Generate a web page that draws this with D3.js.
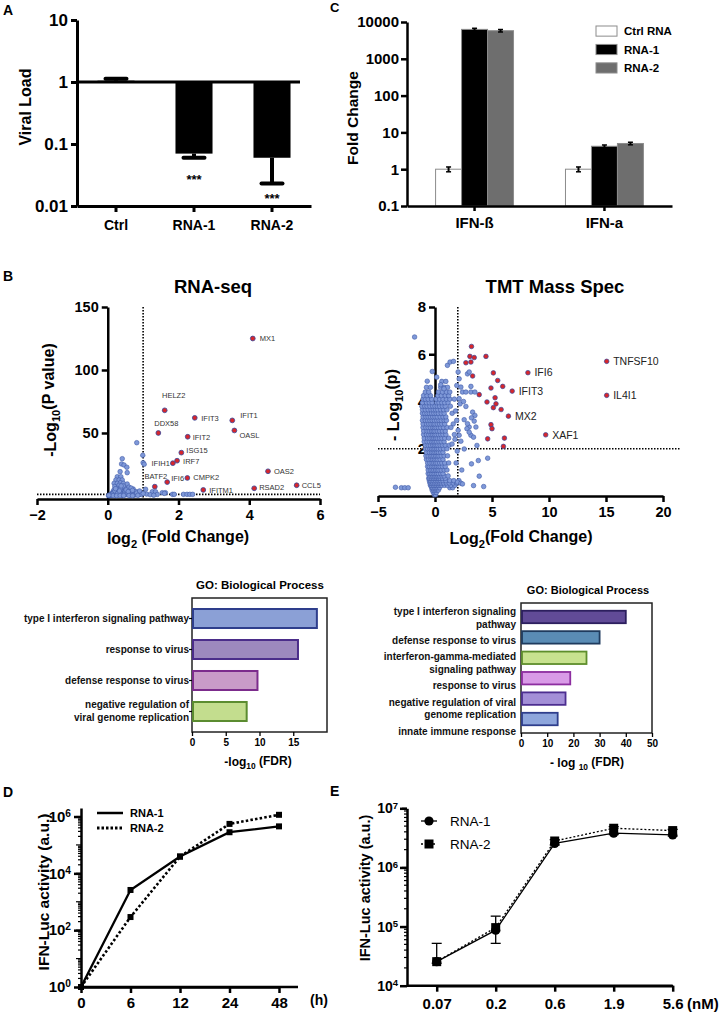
<!DOCTYPE html>
<html><head><meta charset="utf-8">
<script src="https://cdn.jsdelivr.net/npm/d3@7"></script>
<style>body{margin:0;background:#fff}svg{display:block}</style>
</head><body><svg id="c" width="721" height="1014"></svg>
<script>
// ---------------- DATA ----------------
// Panel A
const aCats = ["Ctrl","RNA-1","RNA-2"];
const aMeans = [1.05, 0.07, 0.06];
const aErrEnd = [1.13, 0.06, 0.023];
const aStars = ["", "***", "***"];
const aTicks = [10, 1, 0.1, 0.01];
// Panel C
const cGroups = ["IFN-ß","IFN-a"];
const cSeries = ["Ctrl RNA","RNA-1","RNA-2"];
const cCtrl = [1.0, 1.0];
const cRna1 = [6300, 4.2];
const cRna2 = [5800, 5.0];
const cCtrlErr = [0.15, 0.15];
const cRna1Err = [450, 0.35];
const cRna2Err = [450, 0.4];
const cTicks = [0.1, 1, 10, 100, 1000, 10000];
// Panel B: RNA-seq volcano
const rnaGenes = ["MX1","HELZ2","DDX58","IFIT3","IFIT1","OASL","IFIT2","ISG15","IRF7","IFIH1","OAS2","BATF2","IFI6","CMPK2","IFITM1","RSAD2","CCL5"];
const rnaFC = [4.10,1.61,1.43,2.46,3.52,3.58,2.26,2.08,1.96,1.84,4.53,1.33,1.68,2.25,2.70,4.14,5.34];
const rnaP  = [125,68,50,62,60,52,47,34.4,28,26,19.6,7.4,11,14.3,4.8,6.1,8.5];
const rnaBg = [[0.82,42.3],[0.99,32.3],[0.41,29.6],[0.39,25.4],[0.46,24.6],[0.54,22.8],[1.0,26.4],[1.03,25.2],[0.55,18.5],[0.35,19.3],[0.27,15.3],[0.37,15.3],[0.23,12.7],[0.32,12.7],[0.41,12.7],[0.18,10],[0.27,10],[0.36,10.5],[0.44,10],[0.55,9.5],
[0.08,1.0],[0.12,2.0],[0.15,3.5],[0.18,5.0],[0.2,7.5],[0.22,1.2],[0.25,2.8],[0.28,4.5],[0.3,6.5],[0.32,8.5],[0.35,1.5],[0.38,3.2],[0.4,5.2],[0.42,7.0],[0.45,2.0],[0.48,4.0],[0.5,6.0],[0.52,1.0],[0.55,3.0],[0.58,5.0],[0.6,7.0],[0.62,2.2],[0.65,4.2],[0.68,1.3],[0.7,3.2],[0.72,5.5],[0.75,2.0],[0.78,1.0],[0.8,3.5],[0.84,1.8],[0.88,1.0],[0.92,2.5],[0.95,1.2],[0.1,0.5],[0.05,0.3],[0.02,0.2],[0.14,0.8],[0.18,1.8],[0.24,0.6],[0.3,0.9],[0.34,2.6],[0.26,6.0],[0.36,6.0],[0.44,8.0],[0.48,2.6],[0.56,1.6],[0.63,0.7],[0.66,6.3],[0.74,0.6],[0.82,2.4],[0.16,2.6],[0.2,4.0],[0.12,1.4],[0.06,0.8],[0.4,0.5],[0.46,0.9],[0.52,4.8],[0.58,3.5],[0.7,4.5],[0.38,8.0],[0.28,2.0],[0.22,5.8],[0.33,4.0],
[1.07,5.3],[1.26,3.4],[1.35,3.4],[1.54,2.6],[1.63,2.6],[1.6,2.1],[1.83,1.3],[1.88,1.3],[2.14,1.3],[2.24,1.3],[2.32,1.3],[2.4,1.3],[1.1,1.5],[1.2,1.0],[1.0,2.0],[1.4,1.2],[0.9,4.0],[0.15,0.3],[0.25,0.2],[0.35,0.4],[0.45,0.3],[0.6,0.4],[0.7,0.2],[0.85,0.5],[1.3,0.6],[0.03,0.6]];
const rnaXTicks = [-2,0,2,4,6];
const rnaYTicks = [50,100,150];
// Panel B: TMT volcano
const tmtGenes = ["TNFSF10","IL4I1","IFI6","IFIT3","MX2","XAF1"];
const tmtFC = [15.06,15.06,8.15,6.77,6.44,9.71];
const tmtP  = [5.7,4.26,5.22,4.44,3.38,2.59];
const tmtRed = [[3.2,6.33],[3.06,5.91],[3.44,5.86],[2.71,5.64],[3.15,5.67],[4.47,5.91],[3.3,5.08],[5.12,5.21],[5.5,4.89],[5.94,4.64],[4.91,4.57],[3.88,4.29],[5.27,4.16],[4.56,3.98],[5.35,3.9],[5.12,3.74],[5.8,3.66],[4.91,3.02],[5.0,2.85],[4.62,2.42],[6.09,2.45],[6.0,2.1]];
const tmtCoreRows = [
[0.05,[-0.05,0.05]],
[0.15,[-0.15,0,0.12]],
[0.25,[-0.25,-0.1,0.05,0.18,0.3]],
[0.35,[-0.3,-0.2,-0.05,0.1,0.25,0.4,1.3,1.55]],
[0.45,[-0.4,-0.3,-0.15,0,0.15,0.3,0.45,0.6,0.85,1.1,1.4,1.75]],
[0.55,[-0.45,-0.35,-0.2,-0.05,0.1,0.25,0.4,0.55,0.75,1.0,1.25,1.6,1.9]],
[0.65,[-0.5,-0.4,-0.25,-0.1,0.05,0.2,0.35,0.5,0.7,0.95,1.3,1.65,2.1]],
[0.75,[-0.55,-0.45,-0.3,-0.15,0,0.15,0.3,0.45,0.65,0.9]],
[0.85,[-0.5,-0.35,-0.2,-0.05,0.1,0.25,0.4,0.6,0.8,1.15]],
[0.95,[-0.6,-0.45,-0.3,-0.15,0,0.15,0.3,0.5,0.7]],
[1.1,[-0.6,-0.4,-0.25,-0.1,0.05,0.2,0.35,0.55,0.8,1.05]],
[1.25,[-0.65,-0.5,-0.3,-0.15,0,0.15,0.3,0.45,0.65,0.9]],
[1.4,[-0.65,-0.45,-0.25,-0.1,0.05,0.2,0.4,0.6,0.85,1.2]],
[1.55,[-0.75,-0.55,-0.35,-0.2,-0.05,0.1,0.25,0.45,0.7]],
[1.7,[-0.8,-0.6,-0.4,-0.25,-0.1,0.05,0.2,0.35,0.55,0.8,1.1]],
[1.85,[-0.75,-0.5,-0.3,-0.15,0,0.15,0.3,0.5,0.7]],
[2.0,[-0.85,-0.65,-0.45,-0.3,-0.15,0,0.15,0.3,0.5,0.75,1.05]],
[2.15,[-0.85,-0.6,-0.4,-0.2,-0.05,0.1,0.25,0.45,0.65,0.9,1.25]],
[2.3,[-0.95,-0.7,-0.5,-0.3,-0.15,0,0.15,0.35,0.55,0.8]],
[2.45,[-0.95,-0.65,-0.45,-0.25,-0.1,0.05,0.2,0.4,0.6,0.85,1.2]],
[2.6,[-1.0,-0.75,-0.55,-0.35,-0.2,-0.05,0.1,0.3,0.5,0.7,0.95,1.7]],
[2.75,[-1.0,-0.7,-0.5,-0.3,-0.15,0,0.2,0.4,0.65,0.9]],
[2.9,[-1.05,-0.8,-0.6,-0.4,-0.2,-0.05,0.1,0.3,0.5,0.75,1.05]],
[3.05,[-1.05,-0.75,-0.55,-0.35,-0.15,0,0.2,0.4,0.6,0.85,1.6]],
[3.2,[-1.1,-0.85,-0.65,-0.45,-0.25,-0.05,0.15,0.35,0.55,0.8,1.0]],
[3.35,[-1.05,-0.8,-0.6,-0.4,-0.2,0,0.2,0.45,0.7,0.95]],
[3.5,[-1.1,-0.9,-0.7,-0.5,-0.3,-0.1,0.1,0.3,0.55,0.8,1.5]],
[3.65,[-1.1,-0.85,-0.6,-0.35,-0.15,0.05,0.25,0.5,0.75,1.05]],
[3.8,[-1.15,-0.9,-0.7,-0.45,-0.2,0,0.2,0.4,0.65,0.9]],
[3.95,[-1.1,-0.75,-0.5,-0.25,0.15,0.35,0.6,0.85,1.15]],
[4.1,[-1.05,-0.85,-0.6,-0.3,0.1,0.4,0.7,1.0,1.3]],
[4.25,[-1.0,-0.7,-0.4,0.25,0.55,0.9,1.2]],
[4.4,[-0.85,-0.55,0.3,0.65,1.0,1.3]],
[4.6,[-0.75,-0.4,0.5,0.8,1.1]],
[4.85,[0.6,0.95]]
];
const tmtScatter = [[-1.79,6.73],[-3.47,0.37],[-2.95,0.35],[-2.65,0.35],[-2.35,0.35],[1.09,5.53],[1.32,5.67],[1.62,5.7],[-0.24,5.27],[0.15,5.03],[-0.68,4.86],[0.5,4.71],[0.79,4.54],[2.03,5.25],[2.12,4.96],[2.85,5.17],[3.0,5.25],[1.91,4.68],[2.27,4.61],[2.41,4.4],[2.71,4.4],[3.15,4.4],[3.5,4.4],[3.15,4.64],[2.12,4.12],[2.71,3.79],[3.3,3.55],[3.5,3.41],[3.2,3.31],[3.44,3.17],[3.59,2.92],[3.0,2.92],[2.85,3.06],[2.56,3.23],[2.8,2.85],[3.15,2.57],[3.38,2.49],[3.0,2.7],[2.12,2.57],[2.27,2.32],[2.03,2.78],[2.56,1.99],[3.68,2.14],[3.8,1.5],[4.62,1.6],[3.2,1.36],[3.88,0.84],[3.38,0.44],[4.27,0.4],[1.97,0.59],[2.27,0.54],[2.41,0.51],[1.8,3.6],[1.9,3.2],[2.2,3.9],[1.75,2.4],[1.85,1.4],[2.35,1.1],[1.7,4.1],[2.5,4.0],[1.95,1.9],[1.4,2.9],[1.35,3.8],[1.5,2.2]];
const tmtXTicks = [-5,0,5,10,15,20];
const tmtYTicks = [2,4,6,8];
// GO panels
const goLeftTerms = ["type I interferon signaling pathway","response to virus","defense response to virus","negative regulation of\nviral genome replication"];
const goLeftFDR = [18.5, 15.7, 9.7, 8.1];
const goLeftTicks = [0,5,10,15];
const goRightTerms = ["type I interferon signaling\npathway","defense response to virus","interferon-gamma-mediated\nsignaling pathway","response to virus","negative regulation of viral\ngenome replication","innate immune response"];
const goRightFDR = [40, 30, 25, 18.8, 17, 14];
const goRightTicks = [0,10,20,30,40,50];
// Panel D
const dTimes = [0,6,12,24,48];
const dRna1 = [1, 2600, 39000, 280000, 450000];
const dRna2 = [1, 290, 39000, 550000, 1150000];
const dTicks = [1, 1e2, 1e4, 1e6];
// Panel E
const eDoses = ["0.07","0.2","0.6","1.9","5.6"];
const eRna1 = [25500, 87000, 2.55e6, 3.8e6, 3.55e6];
const eRna2 = [25500, 96000, 2.8e6, 4.6e6, 4.2e6];
const eErrHi = [52000, 150000, 2.95e6, 4.9e6, 4.4e6];
const eErrLo = [24000, 52000, 2.4e6, 3.6e6, 3.4e6];
const eTicks = [1e4, 1e5, 1e6, 1e7];

// ---------------- STYLE / LAYOUT ----------------
const FONT = 'Arial, "Liberation Sans", Helvetica, sans-serif';
const BLUE_FILL = "#7e98d8", BLUE_STROKE = "#3f5aa8";
const RED_FILL = "#d7262b", RED_STROKE = "#35479c";
const svg = d3.select("#c").attr("font-family", FONT);
svg.append("rect").attr("width",721).attr("height",1014).attr("fill","#fff");

function styleAxis(g, o) {
  const sw = o.sw || 2, fs = o.fs || 14, fw = o.fw || "bold";
  g.attr("font-family", FONT);
  g.select(".domain").attr("stroke","#000").attr("stroke-width",sw);
  if (o.noDomain) g.select(".domain").remove();
  g.selectAll(".tick line").attr("stroke","#000").attr("stroke-width", o.tw || sw);
  g.selectAll(".tick text").attr("fill","#000").attr("font-size",fs).attr("font-weight",fw);
}
function txt(x, y, s, o) {
  o = o || {};
  const t = svg.append("text").attr("x",x).attr("y",y).text(s)
    .attr("font-size", o.fs || 12).attr("font-weight", o.fw || "bold")
    .attr("text-anchor", o.anchor || "start").attr("fill", o.fill || "#000");
  if (o.rot) t.attr("transform", `rotate(${o.rot},${x},${y})`);
  return t;
}
function supLabels(g) {
  g.selectAll(".tick text").each(function(d) {
    const e = Math.round(Math.log10(d));
    const t = d3.select(this); t.text("10");
    t.append("tspan").attr("dy","-0.5em").attr("font-size","0.68em").text(e);
  });
}
function minorLogTicks(g, scale, x0, lo, hi) {
  const vals = [];
  for (let k = lo; k < hi; k++) for (let m = 2; m <= 10; m++) {
    const v = m * Math.pow(10, k);
    if (v <= scale.domain()[1]) vals.push({v, len: m === 10 ? 5 : 3});
  }
  g.selectAll(null).data(vals).join("line")
    .attr("x1", x0).attr("x2", d => x0 - d.len)
    .attr("y1", d => scale(d.v)).attr("y2", d => scale(d.v))
    .attr("stroke","#000").attr("stroke-width",1.2);
}

// Panel letters
txt(3, 15, "A", {fs:14});
txt(330, 12, "C", {fs:13});
txt(3, 281, "B", {fs:14});
txt(3, 797, "D", {fs:14});
txt(330, 796, "E", {fs:14});

// ---------------- PANEL A ----------------
{
  const xA = d3.scaleBand().domain(aCats).range([77,311]).paddingInner(0.525).paddingOuter(0.2625);
  const yA = d3.scaleLog().domain([0.01,10]).range([206,20]);
  const g = svg.append("g");
  g.selectAll("rect.bar").data(aCats).join("rect")
    .attr("x", d => xA(d)).attr("width", xA.bandwidth())
    .attr("y", (d,i) => Math.min(yA(1), yA(aMeans[i])))
    .attr("height", (d,i) => Math.abs(yA(aMeans[i]) - yA(1)))
    .attr("fill","#000");
  aCats.forEach((c,i) => {
    const cx = xA(c) + xA.bandwidth()/2;
    g.append("line").attr("x1",cx).attr("x2",cx).attr("y1",yA(aMeans[i])).attr("y2",yA(aErrEnd[i])).attr("stroke","#000").attr("stroke-width",4);
    g.append("line").attr("x1",cx-10.5).attr("x2",cx+10.5).attr("y1",yA(aErrEnd[i])).attr("y2",yA(aErrEnd[i])).attr("stroke","#000").attr("stroke-width",4).attr("stroke-linecap","round");
    if (aStars[i]) txt(cx, Math.min(yA(aErrEnd[i]) + 26, 203), aStars[i], {fs:13, anchor:"middle"});
  });
  g.append("line").attr("x1",77).attr("x2",300).attr("y1",yA(1)).attr("y2",yA(1)).attr("stroke","#000").attr("stroke-width",3);
  g.append("g").attr("transform","translate(77,0)")
    .call(d3.axisLeft(yA).tickValues(aTicks).tickFormat(d => String(d)).tickSize(6).tickSizeOuter(0).tickPadding(3))
    .call(styleAxis, {sw:3, fs:17});
  g.append("g").attr("transform","translate(0,206)")
    .call(d3.axisBottom(xA).tickSize(6).tickSizeOuter(0).tickPadding(8))
    .call(styleAxis, {sw:3, fs:14});
  txt(31, 107, "Viral Load", {fs:16, anchor:"middle", rot:-90});
}

// ---------------- PANEL C ----------------
{
  const yC = d3.scaleLog().domain([0.1,10000]).range([206,22]);
  const xC = d3.scaleBand().domain(cGroups).range([407,672]).paddingInner(0.4).paddingOuter(0.22);
  const xS = d3.scaleBand().domain(cSeries).range([0, xC.bandwidth()]);
  const vals = [cCtrl, cRna1, cRna2], errs = [cCtrlErr, cRna1Err, cRna2Err];
  const fills = ["#ffffff","#000000","#6e6e6e"];
  const g = svg.append("g");
  cGroups.forEach((grp, gi) => {
    cSeries.forEach((s, si) => {
      const x = xC(grp) + xS(s), v = vals[si][gi], e = errs[si][gi];
      g.append("rect").attr("x", x).attr("width", xS.bandwidth()).attr("y", yC(v)).attr("height", yC(0.1) - yC(v))
        .attr("fill", fills[si]).attr("stroke","#8c8c8c").attr("stroke-width",1);
      const cx = x + xS.bandwidth()/2;
      g.append("line").attr("x1",cx).attr("x2",cx).attr("y1",yC(v-e)).attr("y2",yC(v+e)).attr("stroke","#000").attr("stroke-width",2);
      g.append("line").attr("x1",cx-2.5).attr("x2",cx+2.5).attr("y1",yC(v+e)).attr("y2",yC(v+e)).attr("stroke","#000").attr("stroke-width",1.5);
      g.append("line").attr("x1",cx-2.5).attr("x2",cx+2.5).attr("y1",yC(v-e)).attr("y2",yC(v-e)).attr("stroke","#000").attr("stroke-width",1.5);
    });
  });
  g.append("g").attr("transform","translate(407,0)")
    .call(d3.axisLeft(yC).tickValues(cTicks).tickFormat(d => String(d)).tickSize(6).tickSizeOuter(0).tickPadding(2))
    .call(styleAxis, {sw:2.5, fs:15});
  g.append("g").attr("transform","translate(0,206)")
    .call(d3.axisBottom(xC).tickSize(5).tickSizeOuter(0).tickPadding(6))
    .call(styleAxis, {sw:2.5, fs:15});
  txt(358, 118, "Fold Change", {fs:15.5, anchor:"middle", rot:-90});
  const leg = d3.scaleBand().domain(cSeries).range([26, 73]).paddingInner(0.45);
  cSeries.forEach((s, si) => {
    g.append("rect").attr("x",596).attr("y",leg(s)).attr("width",21).attr("height",leg.bandwidth())
      .attr("fill",fills[si]).attr("stroke","#8c8c8c").attr("stroke-width",1);
    txt(624, leg(s) + leg.bandwidth()/2 + 4, s, {fs:11.5});
  });
}

// ---------------- PANEL B: RNA-seq ----------------
{
  const xR = d3.scaleLinear().domain([-2,6]).range([37,320]);
  const yR = d3.scaleLinear().domain([-2.4,150]).range([499,307]);
  const g = svg.append("g");
  txt(213, 293, "RNA-seq", {fs:18.5, anchor:"middle"});
  g.append("g").attr("transform",`translate(${xR(0)},0)`)
    .call(d3.axisLeft(yR).tickValues(rnaYTicks).tickSize(6).tickSizeOuter(0).tickPadding(3))
    .call(styleAxis, {sw:2.5, fs:14.5});
  g.append("g").attr("transform","translate(0,499)")
    .call(d3.axisBottom(xR).tickValues(rnaXTicks).tickSize(6).tickSizeOuter(0).tickPadding(5))
    .call(styleAxis, {sw:2.5, fs:14.5});
  g.append("line").attr("x1",xR(-2)).attr("x2",xR(6)).attr("y1",yR(1.3)).attr("y2",yR(1.3))
    .attr("stroke","#000").attr("stroke-width",1.6).attr("stroke-dasharray","1.5,1.5");
  g.append("line").attr("x1",xR(1)).attr("x2",xR(1)).attr("y1",yR(150)).attr("y2",yR(-2.4))
    .attr("stroke","#000").attr("stroke-width",1.6).attr("stroke-dasharray","1.5,1.5");
  g.selectAll("circle.bg").data(rnaBg).join("circle")
    .attr("cx", d => xR(d[0])).attr("cy", d => yR(d[1])).attr("r", 2.3)
    .attr("fill", BLUE_FILL).attr("stroke", BLUE_STROKE).attr("stroke-width", 0.6);
  g.selectAll("circle.hit").data(rnaGenes).join("circle")
    .attr("cx", (d,i) => xR(rnaFC[i])).attr("cy", (d,i) => yR(rnaP[i])).attr("r", 2.4)
    .attr("fill", RED_FILL).attr("stroke", RED_STROKE).attr("stroke-width", 0.8);
  const lab = {MX1:[7,0,"start"],HELZ2:[9,-15,"middle"],DDX58:[8,-10,"middle"],IFIT3:[6.5,0,"start"],IFIT1:[8,-5,"start"],OASL:[5,5,"start"],IFIT2:[5,1,"start"],ISG15:[5,-2,"start"],IRF7:[6,1,"start"],IFIH1:[-3,0,"end"],OAS2:[6,0,"start"],BATF2:[1,-10,"middle"],IFI6:[4,-4,"start"],CMPK2:[6,-1,"start"],IFITM1:[6,0,"start"],RSAD2:[5,-1,"start"],CCL5:[5,0,"start"]};
  rnaGenes.forEach((gname, i) => {
    const o = lab[gname];
    txt(xR(rnaFC[i]) + o[0], yR(rnaP[i]) + o[1] + 2.7, gname, {fs:7.5, fw:"normal", anchor:o[2], fill:"#333"});
  });
  const yt = txt(56, 400, "-Log", {fs:16, anchor:"middle", rot:-90});
  yt.append("tspan").attr("dy","0.35em").attr("font-size","0.7em").text("10");
  yt.append("tspan").attr("dy","-0.35em").text("(P value)");
  const xt = txt(178, 544, "log", {fs:16, anchor:"middle"});
  xt.append("tspan").attr("dy","0.35em").attr("font-size","0.7em").text("2");
  xt.append("tspan").attr("dy","-0.35em").text(" (Fold Change)");
}

// ---------------- PANEL B: TMT ----------------
{
  const xT = d3.scaleLinear().domain([-5,20]).range([378,663]);
  const yT = d3.scaleLinear().domain([0,8]).range([496,307]);
  const g = svg.append("g");
  txt(555, 293, "TMT Mass Spec", {fs:18.5, anchor:"middle"});
  g.append("g").attr("transform",`translate(${xT(0)},0)`)
    .call(d3.axisLeft(yT).tickValues(tmtYTicks).tickSize(6).tickSizeOuter(0).tickPadding(3))
    .call(styleAxis, {sw:2.5, fs:15});
  g.append("g").attr("transform","translate(0,496)")
    .call(d3.axisBottom(xT).tickValues(tmtXTicks).tickSize(6).tickSizeOuter(0).tickPadding(5))
    .call(styleAxis, {sw:2.5, fs:14.5});
  g.append("line").attr("x1",xT(-5)).attr("x2",xT(21.5)).attr("y1",yT(2)).attr("y2",yT(2))
    .attr("stroke","#000").attr("stroke-width",1.6).attr("stroke-dasharray","1.5,1.5");
  g.append("line").attr("x1",xT(2)).attr("x2",xT(2)).attr("y1",yT(8)).attr("y2",yT(0))
    .attr("stroke","#000").attr("stroke-width",1.6).attr("stroke-dasharray","1.5,1.5");
  const core = [];
  tmtCoreRows.forEach(r => r[1].forEach(x => core.push([x, r[0]])));
  g.selectAll("circle.core").data(core.concat(tmtScatter)).join("circle")
    .attr("cx", d => xT(d[0])).attr("cy", d => yT(d[1])).attr("r", 2.3)
    .attr("fill", BLUE_FILL).attr("stroke", BLUE_STROKE).attr("stroke-width", 0.6);
  g.selectAll("circle.red").data(tmtRed).join("circle")
    .attr("cx", d => xT(d[0])).attr("cy", d => yT(d[1])).attr("r", 2.3)
    .attr("fill", RED_FILL).attr("stroke", RED_STROKE).attr("stroke-width", 0.7);
  g.selectAll("circle.hit").data(tmtGenes).join("circle")
    .attr("cx", (d,i) => xT(tmtFC[i])).attr("cy", (d,i) => yT(tmtP[i])).attr("r", 2.3)
    .attr("fill", RED_FILL).attr("stroke", RED_STROKE).attr("stroke-width", 0.7);
  tmtGenes.forEach((gname, i) => {
    txt(xT(tmtFC[i]) + 6.5, yT(tmtP[i]) + 3.7, gname, {fs:10.5, fw:"normal", fill:"#222"});
  });
  const yt = txt(399, 405, "- Log", {fs:16, anchor:"middle", rot:-90});
  yt.append("tspan").attr("dy","0.35em").attr("font-size","0.7em").text("10");
  yt.append("tspan").attr("dy","-0.35em").text("(p)");
  const xt = txt(521, 544, "Log", {fs:16, anchor:"middle"});
  xt.append("tspan").attr("dy","0.35em").attr("font-size","0.7em").text("2");
  xt.append("tspan").attr("dy","-0.35em").text("(Fold Change)");
}

// ---------------- GO LEFT ----------------
{
  const xG = d3.scaleLinear().domain([0,20]).range([192,327]);
  const yG = d3.scaleBand().domain(goLeftTerms).range([598,732]).paddingInner(0.387).paddingOuter(0.355);
  const cols = [["#8ba0d6","#2e3e8c"],["#9d89be","#4b2d8a"],["#c99bc8","#7c2c8c"],["#c3dd8e","#5b8c30"]];
  const g = svg.append("g");
  txt(260, 589, "GO: Biological Process", {fs:11.5, anchor:"middle"});
  g.append("rect").attr("x",xG(0)).attr("y",598).attr("width",xG(20)-xG(0)).attr("height",134)
    .attr("fill","none").attr("stroke","#222").attr("stroke-width",1.5);
  g.selectAll("rect.bar").data(goLeftTerms).join("rect")
    .attr("x", xG(0)+1).attr("y", d => yG(d)).attr("height", yG.bandwidth())
    .attr("width", (d,i) => xG(goLeftFDR[i]) - xG(0) - 1)
    .attr("fill", (d,i) => cols[i][0]).attr("stroke", (d,i) => cols[i][1]).attr("stroke-width", 2);
  g.append("g").attr("transform","translate(0,732)")
    .call(d3.axisBottom(xG).tickValues(goLeftTicks).tickSize(4).tickPadding(3))
    .call(styleAxis, {sw:1.3, fs:10, noDomain:true});
  goLeftTerms.forEach(t => {
    const lines = t.split("\n"), cy = yG(t) + yG.bandwidth()/2;
    lines.forEach((ln, k) => txt(189, cy + 3.5 + (k - (lines.length-1)/2) * 13, ln, {fs:10, anchor:"end", fill:"#111"}));
    g.append("line").attr("x1",189).attr("x2",192).attr("y1",cy).attr("y2",cy).attr("stroke","#000").attr("stroke-width",1.2);
  });
  const xl = txt(258, 766, "-log", {fs:12, anchor:"middle"});
  xl.append("tspan").attr("dy","0.3em").attr("font-size","0.7em").text("10");
  xl.append("tspan").attr("dy","-0.3em").text(" (FDR)");
}

// ---------------- GO RIGHT ----------------
{
  const xG = d3.scaleLinear().domain([0,50]).range([521,652]);
  const yG = d3.scaleBand().domain(goRightTerms).range([603,733]).paddingInner(0.39).paddingOuter(0.38);
  const yLab = d3.scalePoint().domain(goRightTerms).range([618,731]);
  const cols = [["#614b97","#2c1f5e"],["#5a8cb5","#1f3b5e"],["#c8e28f","#5e8e2c"],["#d99be7","#8d2ea0"],["#a38fd7","#4c2e90"],["#8ea6dc","#2e3e8c"]];
  const g = svg.append("g");
  txt(588, 594, "GO: Biological Process", {fs:11, anchor:"middle"});
  g.append("rect").attr("x",xG(0)).attr("y",603).attr("width",xG(50)-xG(0)).attr("height",130)
    .attr("fill","none").attr("stroke","#222").attr("stroke-width",1.5);
  g.selectAll("rect.bar").data(goRightTerms).join("rect")
    .attr("x", xG(0)+1).attr("y", d => yG(d)).attr("height", yG.bandwidth())
    .attr("width", (d,i) => xG(goRightFDR[i]) - xG(0) - 1)
    .attr("fill", (d,i) => cols[i][0]).attr("stroke", (d,i) => cols[i][1]).attr("stroke-width", 1.8);
  g.append("g").attr("transform","translate(0,733)")
    .call(d3.axisBottom(xG).tickValues(goRightTicks).tickSize(4).tickPadding(3))
    .call(styleAxis, {sw:1.3, fs:10, noDomain:true});
  goRightTerms.forEach(t => {
    const lines = t.split("\n"), cy = yLab(t);
    lines.forEach((ln, k) => txt(516, cy + 3.5 + (k - (lines.length-1)/2) * 12.5, ln, {fs:10, anchor:"end", fill:"#111"}));
  });
  const xl = txt(587, 767, "- log ", {fs:12, anchor:"middle"});
  xl.append("tspan").attr("dy","0.35em").attr("font-size","0.7em").text("10");
  xl.append("tspan").attr("dy","-0.35em").text(" (FDR)");
}

// ---------------- PANEL D ----------------
{
  const yD = d3.scaleLog().domain([1, Math.pow(10,6.3)]).range([987,808]);
  const xD = d3.scalePoint().domain(dTimes).range([81,279]);
  const g = svg.append("g");
  minorLogTicks(g, yD, 81, 0, 7);
  g.append("g").attr("transform","translate(81,0)")
    .call(d3.axisLeft(yD).tickValues(dTicks).tickSize(7).tickSizeOuter(0).tickPadding(3))
    .call(styleAxis, {sw:2.5, fs:15}).call(supLabels);
  g.append("line").attr("x1",81).attr("x2",298).attr("y1",987).attr("y2",987).attr("stroke","#000").attr("stroke-width",2.5);
  g.append("g").attr("transform","translate(0,987)")
    .call(d3.axisBottom(xD).tickSize(6).tickSizeOuter(0).tickPadding(4))
    .call(styleAxis, {sw:2.5, fs:15});
  const line = d3.line().x(d => xD(d[0])).y(d => yD(d[1]));
  const s1 = dTimes.map((t,i) => [t, dRna1[i]]), s2 = dTimes.map((t,i) => [t, dRna2[i]]);
  g.append("path").attr("d", line(s1)).attr("fill","none").attr("stroke","#000").attr("stroke-width",2.3);
  g.append("path").attr("d", line(s2)).attr("fill","none").attr("stroke","#000").attr("stroke-width",2.6).attr("stroke-dasharray","2.5,2.2");
  g.selectAll(null).data(s1.concat(s2).slice(1)).join("rect")
    .attr("x", d => xD(d[0]) - 3).attr("y", d => yD(d[1]) - 3).attr("width",6).attr("height",6).attr("fill","#000");
  g.append("line").attr("x1",97).attr("x2",123).attr("y1",813).attr("y2",813).attr("stroke","#000").attr("stroke-width",2.5);
  g.append("line").attr("x1",97).attr("x2",123).attr("y1",828).attr("y2",828).attr("stroke","#000").attr("stroke-width",2.8).attr("stroke-dasharray","2.5,2");
  txt(130, 817, "RNA-1", {fs:11});
  txt(130, 832, "RNA-2", {fs:11});
  txt(310, 1005, "(h)", {fs:14});
  txt(49, 892, "IFN-Luc activity (a.u.)", {fs:15.5, anchor:"middle", rot:-90});
}

// ---------------- PANEL E ----------------
{
  const yE = d3.scaleLog().domain([1e4,1e7]).range([985.7,808.3]);
  const xE = d3.scalePoint().domain(eDoses).range([436.7,672.7]);
  const g = svg.append("g");
  minorLogTicks(g, yE, 407, 4, 7);
  g.append("g").attr("transform","translate(407,0)")
    .call(d3.axisLeft(yE).tickValues(eTicks).tickSize(7).tickSizeOuter(0).tickPadding(2))
    .call(styleAxis, {sw:2.5, fs:14}).call(supLabels);
  g.append("line").attr("x1",407).attr("x2",672.7).attr("y1",985.7).attr("y2",985.7).attr("stroke","#000").attr("stroke-width",2.5);
  g.append("g").attr("transform","translate(0,985.7)")
    .call(d3.axisBottom(xE).tickSize(6).tickSizeOuter(0).tickPadding(7))
    .call(styleAxis, {sw:2.5, fs:15});
  txt(687, 1009, "(nM)", {fs:15});
  eDoses.forEach((d,i) => {
    const cx = xE(d);
    g.append("line").attr("x1",cx).attr("x2",cx).attr("y1",yE(eErrLo[i])).attr("y2",yE(eErrHi[i])).attr("stroke","#000").attr("stroke-width",1.3);
    [eErrLo[i], eErrHi[i]].forEach(v => g.append("line").attr("x1",cx-5).attr("x2",cx+5).attr("y1",yE(v)).attr("y2",yE(v)).attr("stroke","#000").attr("stroke-width",1.3));
  });
  const line = d3.line().x(d => xE(d[0])).y(d => yE(d[1]));
  const s1 = eDoses.map((t,i) => [t, eRna1[i]]), s2 = eDoses.map((t,i) => [t, eRna2[i]]);
  g.append("path").attr("d", line(s1)).attr("fill","none").attr("stroke","#000").attr("stroke-width",1.3);
  g.append("path").attr("d", line(s2)).attr("fill","none").attr("stroke","#000").attr("stroke-width",1.3).attr("stroke-dasharray","2,2");
  g.selectAll(null).data(s1).join("circle").attr("cx", d => xE(d[0])).attr("cy", d => yE(d[1])).attr("r",4.6).attr("fill","#000");
  g.selectAll(null).data(s2).join("rect").attr("x", d => xE(d[0]) - 4.5).attr("y", d => yE(d[1]) - 4.5).attr("width",9).attr("height",9).attr("fill","#000");
  g.append("line").attr("x1",421).attr("x2",437).attr("y1",821).attr("y2",821).attr("stroke","#000").attr("stroke-width",1.3);
  g.append("circle").attr("cx",429).attr("cy",821).attr("r",4.6).attr("fill","#000");
  g.append("line").attr("x1",421).attr("x2",437).attr("y1",844).attr("y2",844).attr("stroke","#000").attr("stroke-width",1.3).attr("stroke-dasharray","2,2");
  g.append("rect").attr("x",424.5).attr("y",839.5).attr("width",9).attr("height",9).attr("fill","#000");
  txt(450, 826, "RNA-1", {fs:13.5, fw:"normal"});
  txt(450, 849, "RNA-2", {fs:13.5, fw:"normal"});
  txt(370, 888, "IFN-Luc activity (a.u.)", {fs:14.5, anchor:"middle", rot:-90});
}
</script></body></html>
